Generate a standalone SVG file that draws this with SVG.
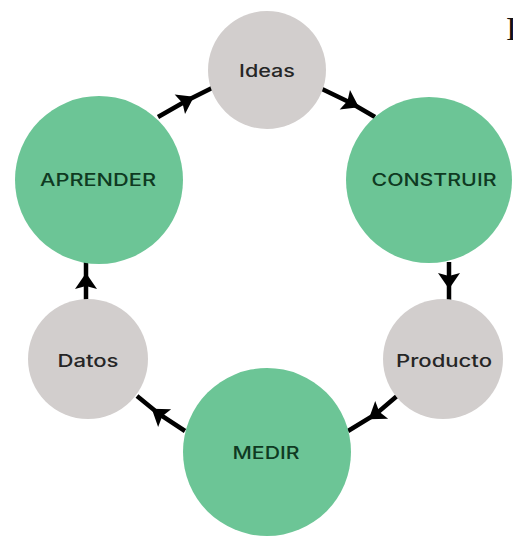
<svg xmlns="http://www.w3.org/2000/svg" width="513" height="536" viewBox="0 0 513 536">
<style>
.green{fill:#6cc596}
.grey{fill:#d2cecd}
.lbl{font-family:Inter,"Noto Sans","Liberation Sans",sans-serif;font-weight:500;font-size:17px;text-anchor:middle;dominant-baseline:central}
.lg{fill:#0f3a22}
.ly{fill:#262626}
.conn{fill:none;stroke:#000;stroke-width:4.5;marker-mid:url(#ah)}
</style>
<defs>
<marker id="ah" markerUnits="userSpaceOnUse" viewBox="-15 -15 30 30" refX="0" refY="0" markerWidth="30" markerHeight="30" orient="auto">
<path d="M9,0 L-7,-11 L-4,0 L-7,11 Z" fill="#000"/>
</marker>
</defs>
<rect width="513" height="536" fill="#fff"/>
<g id="connectors">
<path class="conn" d="M158,117 L186,101 L212,88"/>
<path class="conn" d="M322,89 L351,103 L375,117"/>
<path class="conn" d="M449,262 L449,280 L449,300"/>
<path class="conn" d="M397,396 L376,414 L348,431"/>
<path class="conn" d="M185,431 L159,414 L137,396"/>
<path class="conn" d="M86,300 L86,282 L86,262"/>
</g>
<g id="ideas"><circle class="grey" cx="267" cy="70" r="59"/><text class="lbl ly" x="267" y="71" textLength="56" lengthAdjust="spacingAndGlyphs">Ideas</text></g>
<g id="construir"><circle class="green" cx="429" cy="180" r="83"/><text class="lbl lg" x="434" y="180" textLength="125" lengthAdjust="spacingAndGlyphs">CONSTRUIR</text></g>
<g id="producto"><circle class="grey" cx="443" cy="359" r="60"/><text class="lbl ly" x="444" y="361" textLength="96" lengthAdjust="spacingAndGlyphs">Producto</text></g>
<g id="medir"><circle class="green" cx="267" cy="452" r="84"/><text class="lbl lg" x="266" y="453" textLength="67" lengthAdjust="spacingAndGlyphs">MEDIR</text></g>
<g id="datos"><circle class="grey" cx="88" cy="359" r="60"/><text class="lbl ly" x="88" y="361" textLength="61" lengthAdjust="spacingAndGlyphs">Datos</text></g>
<g id="aprender"><circle class="green" cx="99" cy="180" r="84"/><text class="lbl lg" x="98" y="180" textLength="116" lengthAdjust="spacingAndGlyphs">APRENDER</text></g>
<text x="506" y="40" font-family="Liberation Serif,serif" font-size="33" fill="#111">I</text>
</svg>
